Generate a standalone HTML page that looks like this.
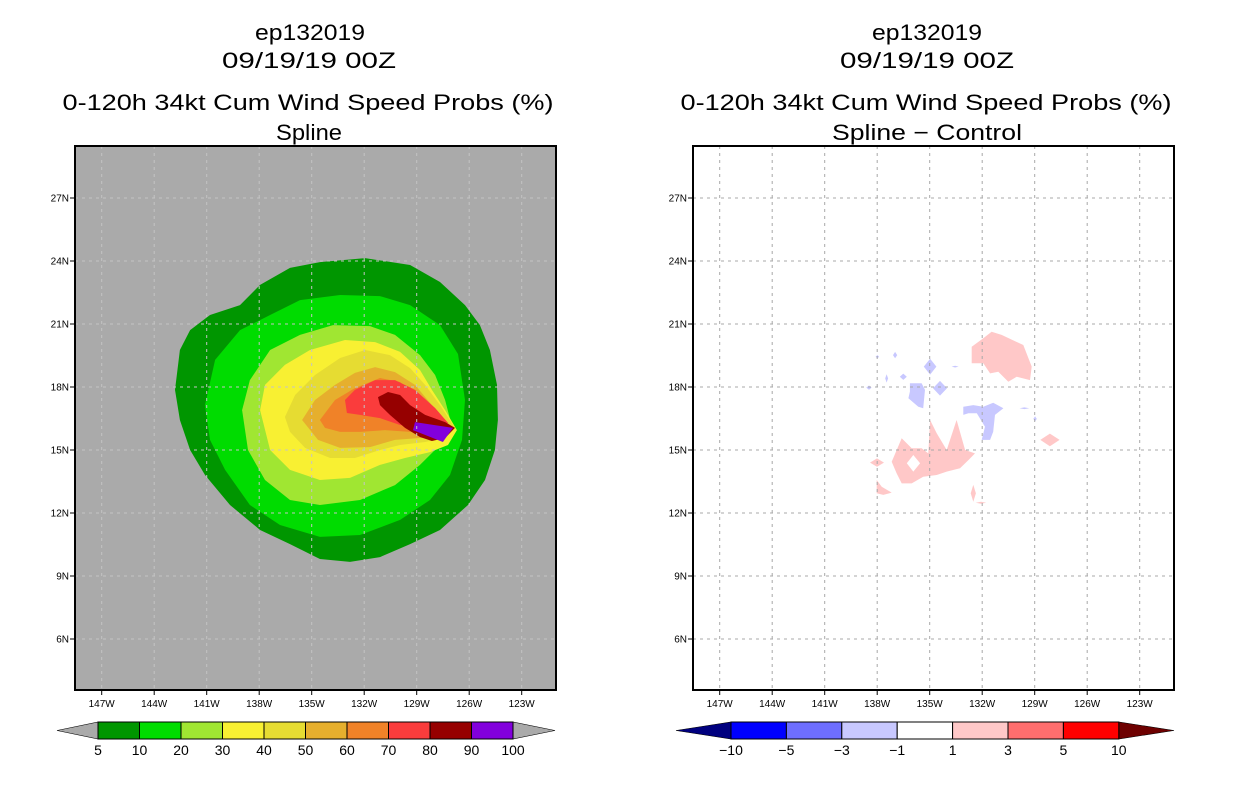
<!DOCTYPE html>
<html><head><meta charset="utf-8"><style>
html,body{margin:0;padding:0;background:#fff;}
svg{display:block;}
text{font-family:"Liberation Sans",sans-serif;}
</style></head>
<body>
<svg id="chart" width="1236" height="800" viewBox="0 0 1236 800" xmlns="http://www.w3.org/2000/svg">
  <g font-size="22" text-anchor="middle" fill="#000">
    <text x="310" y="40" textLength="110" lengthAdjust="spacingAndGlyphs">ep132019</text>
    <text x="309" y="68" textLength="174" lengthAdjust="spacingAndGlyphs">09/19/19 00Z</text>
    <text x="308" y="110" textLength="491" lengthAdjust="spacingAndGlyphs">0-120h 34kt Cum Wind Speed Probs (%)</text>
    <text x="309" y="140" textLength="66" lengthAdjust="spacingAndGlyphs">Spline</text>
  </g>
  <g font-size="22" text-anchor="middle" fill="#000">
    <text x="927" y="40" textLength="110" lengthAdjust="spacingAndGlyphs">ep132019</text>
    <text x="927" y="68" textLength="174" lengthAdjust="spacingAndGlyphs">09/19/19 00Z</text>
    <text x="926" y="110" textLength="491" lengthAdjust="spacingAndGlyphs">0-120h 34kt Cum Wind Speed Probs (%)</text>
    <text x="927" y="140" textLength="190" lengthAdjust="spacingAndGlyphs">Spline − Control</text>
  </g>
  <defs>
    <clipPath id="clipL"><rect x="75" y="146" width="481" height="544"/></clipPath>
    <clipPath id="clipR"><rect x="693" y="146" width="481" height="544"/></clipPath>
  </defs>
  <g id="left-map"></g>
  <g id="right-map"></g>
  <g id="left-cbar"></g>
  <g id="right-cbar"></g>
</svg>
<script>
// ---- axis data ----
const lonTicks = [147,144,141,138,135,132,129,126,123];
const latTicks = [27,24,21,18,15,12,9,6];
// ---- left contour data (lon W, lat N), levels ----
const leftLevels = [5,10,20,30,40,50,60,70,80,90,100];
const leftColors = ["#009600","#00dc00","#a0e632","#f8f032","#e6dc32","#e6af2d","#f08228","#fa3c3c","#960000","#8200dc"];
const c5 = [[142.81,17.86],[142.53,19.76],[141.95,20.71],[140.81,21.43],[139.1,21.9],[137.95,22.86],[136.24,23.67],[134.53,23.95],[131.95,24.14],[129.38,23.81],[127.67,23.0],[126.24,21.9],[125.39,20.95],[124.82,19.76],[124.41,18.1],[124.36,16.43],[124.53,15.0],[125.1,13.57],[126.07,12.38],[127.67,11.19],[129.38,10.52],[131.1,9.9],[132.81,9.67],[134.53,9.81],[136.24,10.52],[137.95,11.19],[139.67,12.38],[141.1,13.81],[141.95,15.0],[142.53,16.43]];
const c10 = [[141.1,17.14],[140.52,19.29],[139.1,20.71],[137.38,21.43],[135.67,22.14],[133.38,22.38],[131.1,22.33],[129.38,21.9],[127.67,20.95],[126.64,19.57],[126.24,17.38],[126.41,15.48],[127.1,13.81],[128.24,12.62],[129.95,11.67],[132.24,10.95],[134.53,10.86],[136.81,11.43],[138.53,12.38],[139.95,14.05],[140.81,15.48]];
const c20 = [[138.98,16.9],[138.53,18.33],[137.38,19.76],[135.67,20.48],[133.78,20.95],[131.67,20.9],[130.24,20.48],[128.81,19.52],[127.95,18.57],[127.38,17.38],[126.93,15.95],[127.67,15.24],[128.81,14.29],[130.24,13.33],[132.24,12.62],[134.53,12.38],[136.24,12.62],[137.67,13.57],[138.64,15.0]];
const c30 = [[137.95,16.9],[137.67,18.1],[136.53,19.05],[135.1,19.76],[133.1,20.24],[131.38,20.14],[129.95,19.67],[128.81,18.81],[128.13,17.86],[127.38,16.9],[126.7,15.95],[127.21,15.24],[128.24,14.9],[129.67,14.62],[131.1,14.29],[132.81,13.67],[134.53,13.57],[136.24,14.05],[137.38,15.0]];
const c40 = [[136.53,16.57],[135.95,17.62],[134.81,18.57],[133.38,19.38],[131.95,19.76],[130.53,19.52],[129.38,18.9],[128.52,18.1],[127.67,17.14],[126.81,16.05],[127.38,15.57],[128.52,15.38],[129.95,15.24],[131.1,15.0],[132.53,14.62],[133.95,14.62],[135.38,15.1],[136.24,15.86]];
const c50 = [[135.55,16.43],[134.81,17.38],[133.67,18.1],[132.53,18.67],[131.38,18.95],[130.24,18.71],[129.1,18.1],[128.13,17.14],[127.1,16.19],[127.67,15.67],[128.81,15.57],[130.24,15.48],[131.67,15.14],[133.38,15.1],[134.64,15.48]];
const c60 = [[134.53,16.43],[133.67,17.38],[132.53,17.95],[131.1,18.43],[129.95,18.24],[128.81,17.48],[127.67,16.67],[127.21,16.19],[127.95,15.86],[129.38,15.86],[130.81,15.95],[132.24,15.86],[133.38,15.86],[134.24,16.05]];
const c70 = [[133.1,17.38],[132.53,17.86],[131.38,18.33],[130.24,18.33],[129.1,17.86],[127.95,17.0],[127.21,16.29],[127.67,15.95],[128.81,16.05],[129.95,16.19],[131.1,16.52],[132.24,16.67],[132.99,16.76]];
const c80 = [[131.21,17.52],[130.64,17.76],[129.95,17.62],[129.38,17.14],[128.52,16.67],[127.38,16.33],[126.81,16.05],[127.38,15.57],[128.13,15.43],[128.81,15.62],[129.67,16.05],[130.53,16.67],[131.1,17.14]];
const c90 = [[129.1,16.33],[126.93,16.05],[127.5,15.38],[129.21,15.95]];
const leftContours = [c5,c10,c20,c30,c40,c50,c60,c70,c80,c90];
// ---- right difference data ----
const rightLevels = [-10,-5,-3,-1,1,3,5,10];
const rightColors = ["#00007f","#0000ff","#6e6eff","#c8c8ff","#ffffff","#ffc8c8","#ff6e6e","#ff0000","#6e0000"];
const posA = [[132.6,19.92],[131.94,20.32],[131.46,20.63],[130.89,20.48],[129.65,20.0],[129.17,18.97],[129.27,18.33],[130.03,18.49],[130.51,18.25],[131.08,18.73],[131.55,18.65],[131.94,19.13],[132.6,19.13]];
const posB = [[137.17,14.44],[136.6,15.56],[136.03,15.08],[135.46,15.08],[135.08,14.84],[134.98,16.43],[134.6,15.8],[134.03,15.0],[133.46,16.43],[132.98,15.0],[132.41,14.84],[132.79,14.52],[133.27,14.13],[134.03,13.97],[134.6,13.81],[135.37,13.73],[136.03,13.41],[136.6,13.41],[136.89,13.89]];
const posBHole = [[136.31,14.37],[135.94,14.76],[135.55,14.37],[135.94,13.97]];
const posC = [[138.03,13.57],[137.74,13.25],[137.17,12.97],[137.65,12.86],[138.03,12.94]];
const posDots = [[138.01,14.4,0.4,0.2],[128.13,15.48,0.55,0.3],[132.51,12.94,0.15,0.4],[132.07,12.49,0.3,0.05]];
const negH = [[133.08,17.06],[132.51,17.14],[131.94,17.06],[131.37,17.25],[130.79,16.99],[131.27,16.67],[131.37,15.87],[131.55,15.48],[132.03,15.48],[131.84,16.11],[132.31,16.75],[132.79,16.75],[133.08,16.67]];
const negI = [[136.13,18.18],[135.46,18.18],[135.27,17.86],[135.37,16.99],[135.65,17.06],[136.22,17.46],[136.13,17.78]];
const negDots = [[134.98,18.97,0.36,0.38],[134.41,17.94,0.4,0.35],[136.51,18.49,0.2,0.15],[136.98,19.52,0.12,0.15],[137.46,18.41,0.08,0.2],[137.99,19.44,0.1,0.08],[138.47,17.97,0.15,0.1],[133.55,18.97,0.2,0.04],[129.59,16.99,0.28,0.04],[128.98,16.48,0.1,0.12]];

// ---- axis functions ----
const NS = "http://www.w3.org/2000/svg";
function xOf(lon, off){ return off + 206.7 + (141 - lon) * 17.5; }
function yOf(lat){ return 324 + (21 - lat) * 21; }
function mk(tag, attrs, parent){
  const e = document.createElementNS(NS, tag);
  for (const k in attrs) e.setAttribute(k, attrs[k]);
  parent.appendChild(e); return e;
}
function polyPts(arr, off){ return arr.map(p => xOf(p[0],off).toFixed(1)+","+yOf(p[1]).toFixed(1)).join(" "); }

function drawFrame(g, off, bg, gridColor){
  const bgR = mk("rect",{x:75+off,y:146,width:481,height:544,fill:bg},g);
  
  
  return bgR;
}
function drawGridAxes(g, off, gridColor, clip){
  const gg = mk("g",{"clip-path":"url(#"+clip+")"},g);
  
  
  lonTicks.forEach(lon => {
    const x = xOf(lon, off);
    const l = mk("line",{x1:x,y1:146,x2:x,y2:690,stroke:gridColor,"stroke-width":1,"stroke-dasharray":"3,4"},gg);
    
    
  });
  latTicks.forEach(lat => {
    const y = yOf(lat);
    const l = mk("line",{x1:75+off,y1:y,x2:556+off,y2:y,stroke:gridColor,"stroke-width":1,"stroke-dasharray":"3,4"},gg);
    
    
  });
  const fr = mk("rect",{x:75+off,y:146,width:481,height:544,fill:"none",stroke:"#000","stroke-width":2},g);
  
  
  lonTicks.forEach(lon => {
    const x = xOf(lon, off);
    mk("line",{x1:x,y1:690,x2:x,y2:695,stroke:"#000","stroke-width":1},g);
    const t = mk("text",{x:x,y:707,"font-size":10,"text-anchor":"middle"},g);
    t.textContent = lon + "W";
    
    
  });
  latTicks.forEach(lat => {
    const y = yOf(lat);
    mk("line",{x1:70+off,y1:y,x2:75+off,y2:y,stroke:"#000","stroke-width":1},g);
    const t = mk("text",{x:69+off,y:y+3.5,"font-size":10,"text-anchor":"end"},g);
    t.textContent = lat + "N";
    
    
  });
}

// ---- left map ----
const gL = document.getElementById("left-map");
drawFrame(gL, 0, "#aaaaaa");
const fillL = mk("g",{"clip-path":"url(#clipL)"},gL);
leftContours.forEach((c,i) => {
  const p = mk("polygon",{points:polyPts(c,0),fill:leftColors[i]},fillL);
  
  
});
drawGridAxes(gL, 0, "#c4c4c4", "clipL");

// ---- right map ----
const gR = document.getElementById("right-map");
const OFF = 618;
drawFrame(gR, OFF, "#ffffff");
const fillR = mk("g",{"clip-path":"url(#clipR)"},gR);
[posA,posB,posC].forEach(c => {
  const p = mk("polygon",{points:polyPts(c,OFF),fill:"#ffc8c8"},fillR);
  
  
});
const hole = mk("polygon",{points:polyPts(posBHole,OFF),fill:"#ffffff"},fillR);


[negH,negI].forEach(c => {
  const p = mk("polygon",{points:polyPts(c,OFF),fill:"#c8c8ff"},fillR);
  
  
});
function diamond(d, col, nm){
  const pts = [[d[0],d[1]+d[3]],[d[0]-d[2],d[1]],[d[0],d[1]-d[3]],[d[0]+d[2],d[1]]];
  const p = mk("polygon",{points:polyPts(pts,OFF),fill:col},fillR);
  
  
}
posDots.forEach(d => diamond(d,"#ffc8c8","positive-diff-spot"));
negDots.forEach(d => diamond(d,"#c8c8ff","negative-diff-spot"));
drawGridAxes(gR, OFF, "#a8a8a8", "clipR");

// ---- colorbars ----
function colorbar(g, x0, boxW, colors, labels, arrowL, arrowR, leftTip, rightTip){
  const y0 = 722, h = 17, ym = y0 + h/2;
  const n = labels.length - 1; // boxes between labels
  const la = mk("polygon",{points:leftTip+","+ym+" "+x0+","+y0+" "+x0+","+(y0+h),fill:arrowL,stroke:"#000","stroke-width":0.6},g);
  
  
  const xe = x0 + boxW*n;
  const ra = mk("polygon",{points:rightTip+","+ym+" "+xe+","+y0+" "+xe+","+(y0+h),fill:arrowR,stroke:"#000","stroke-width":0.6},g);
  
  
  for (let i=0;i<n;i++){
    const r = mk("rect",{x:x0+boxW*i,y:y0,width:boxW,height:h,fill:colors[i],stroke:"#000","stroke-width":1},g);
    
    
  }
  labels.forEach((v,i) => {
    const t = mk("text",{x:x0+boxW*i,y:755,"font-size":14,"text-anchor":"middle"},g);
    t.textContent = v < 0 ? "\u2212" + Math.abs(v) : String(v);
    
    
  });
}
colorbar(document.getElementById("left-cbar"), 98, 41.5, leftColors, leftLevels, "#aaaaaa", "#aaaaaa", 57, 555);
colorbar(document.getElementById("right-cbar"), 731, 55.4, rightColors.slice(1,8), rightLevels, rightColors[0], rightColors[8], 676, 1174);
</script>
</body></html>
